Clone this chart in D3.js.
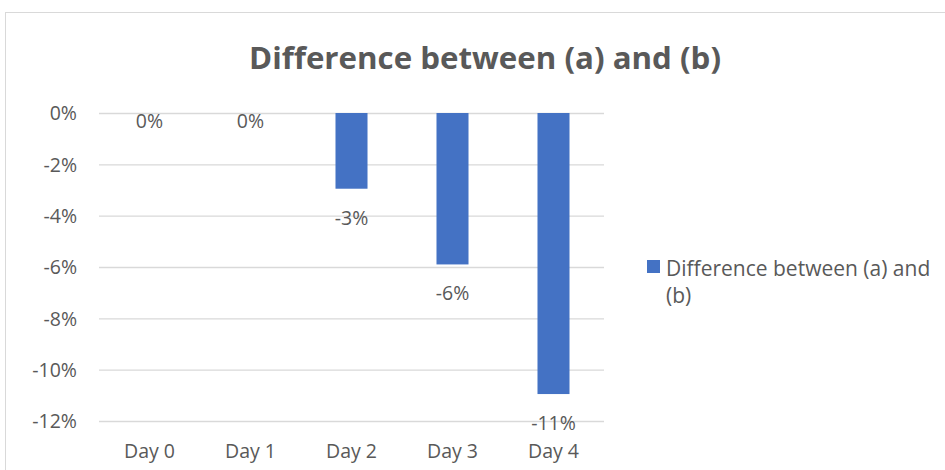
<!DOCTYPE html>
<html>
<head>
<meta charset="utf-8">
<script src="https://cdn.jsdelivr.net/npm/d3@7"></script>
<style>
  body { margin: 0; background: #fff; }
  svg text { font-family: "Open Sans", "Noto Sans", sans-serif; fill: #595959; }
</style>
</head>
<body>
<div id="chart"></div>
<script>
// chart values
let categories = ['Day 0', 'Day 1', 'Day 2', 'Day 3', 'Day 4'];
let differences = [0, 0, -0.0295, -0.059, -0.1095];
let yTicks = [0, -0.02, -0.04, -0.06, -0.08, -0.10, -0.12];
let title = 'Difference between (a) and (b)';
let seriesName = ['Difference between (a) and', '(b)'];

let width = 945, height = 470;
let barColor = '#4472c4';

let svg = d3.select('#chart')
    .append('svg')
    .attr('width', width)
    .attr('height', height);

// chart border
svg.append('rect')
    .attr('x', 5.5)
    .attr('y', 12.5)
    .attr('width', 1000)
    .attr('height', 1000)
    .attr('fill', 'none')
    .attr('stroke', '#d9d9d9');

// title
svg.append('text')
    .attr('x', 485)
    .attr('y', 69)
    .attr('text-anchor', 'middle')
    .attr('textLength', 472)
    .attr('lengthAdjust', 'spacingAndGlyphs')
    .style('font-size', '30px')
    .style('font-weight', 'bold')
    .text(title);

let plot = {left: 99, right: 604, top: 113, bottom: 421};

let xScale = d3.scaleBand()
    .domain(categories)
    .range([plot.left, plot.right])
    .paddingInner(0.683)
    .paddingOuter(0.683 / 2);

let yScale = d3.scaleLinear()
    .domain([-0.12, 0])
    .range([plot.bottom, plot.top]);

// excel style: plain hyphen for the minus sign
let pct = function(v) { return d3.format('.0%')(v).replace('\u2212', '-'); };

// gridlines
svg.append('g')
    .selectAll('line')
    .data(yTicks)
    .enter().append('line')
    .attr('x1', plot.left)
    .attr('x2', plot.right)
    .attr('y1', function(d) { return yScale(d) + 0.5; })
    .attr('y2', function(d) { return yScale(d) + 0.5; })
    .attr('stroke', '#d9d9d9')
    .attr('stroke-width', 1.3);

// y axis labels
let yAxis = svg.append('g')
    .attr('transform', 'translate(' + (plot.left - 22) + ',0)')
    .call(d3.axisLeft(yScale).tickValues(yTicks).tickFormat(pct).tickSize(0).tickPadding(0));
yAxis.select('.domain').remove();
yAxis.selectAll('text')
    .style('font-size', '19.5px')
    .style('font-family', '"Open Sans", sans-serif')
    .attr('fill', '#595959')
    .attr('dy', '0.35em');

// x axis labels
let xAxis = svg.append('g')
    .attr('transform', 'translate(0,' + (plot.bottom + 23) + ')')
    .call(d3.axisBottom(xScale).tickSize(0).tickPadding(0));
xAxis.select('.domain').remove();
xAxis.selectAll('text')
    .style('font-size', '19.5px')
    .style('font-family', '"Open Sans", sans-serif')
    .attr('fill', '#595959')
    .attr('dy', '0.7em');

let data = categories.map(function(c, i) { return {cat: c, value: differences[i]}; });

// bars
svg.append('g')
    .selectAll('rect')
    .data(data)
    .enter().append('rect')
    .attr('x', function(d) { return xScale(d.cat); })
    .attr('y', function(d) { return yScale(0); })
    .attr('width', xScale.bandwidth())
    .attr('height', function(d) { return yScale(d.value) - yScale(0); })
    .attr('fill', barColor);

// data labels (outside end of each bar)
svg.append('g')
    .selectAll('text')
    .data(data)
    .enter().append('text')
    .attr('x', function(d) { return xScale(d.cat) + xScale.bandwidth() / 2; })
    .attr('y', function(d) { return yScale(d.value) + (d.value < 0 ? 36 : 15); })
    .attr('text-anchor', 'middle')
    .style('font-size', '19.5px')
    .text(function(d) { return pct(d.value); });

// legend
let legend = svg.append('g');
legend.append('rect')
    .attr('x', 647)
    .attr('y', 260)
    .attr('width', 13)
    .attr('height', 13)
    .attr('fill', barColor);
legend.selectAll('text')
    .data(seriesName)
    .enter().append('text')
    .attr('x', 666)
    .attr('y', function(d, i) { return 276 + i * 27; })
    .style('font-size', '21px')
    .text(function(d) { return d; });
</script>
</body>
</html>
